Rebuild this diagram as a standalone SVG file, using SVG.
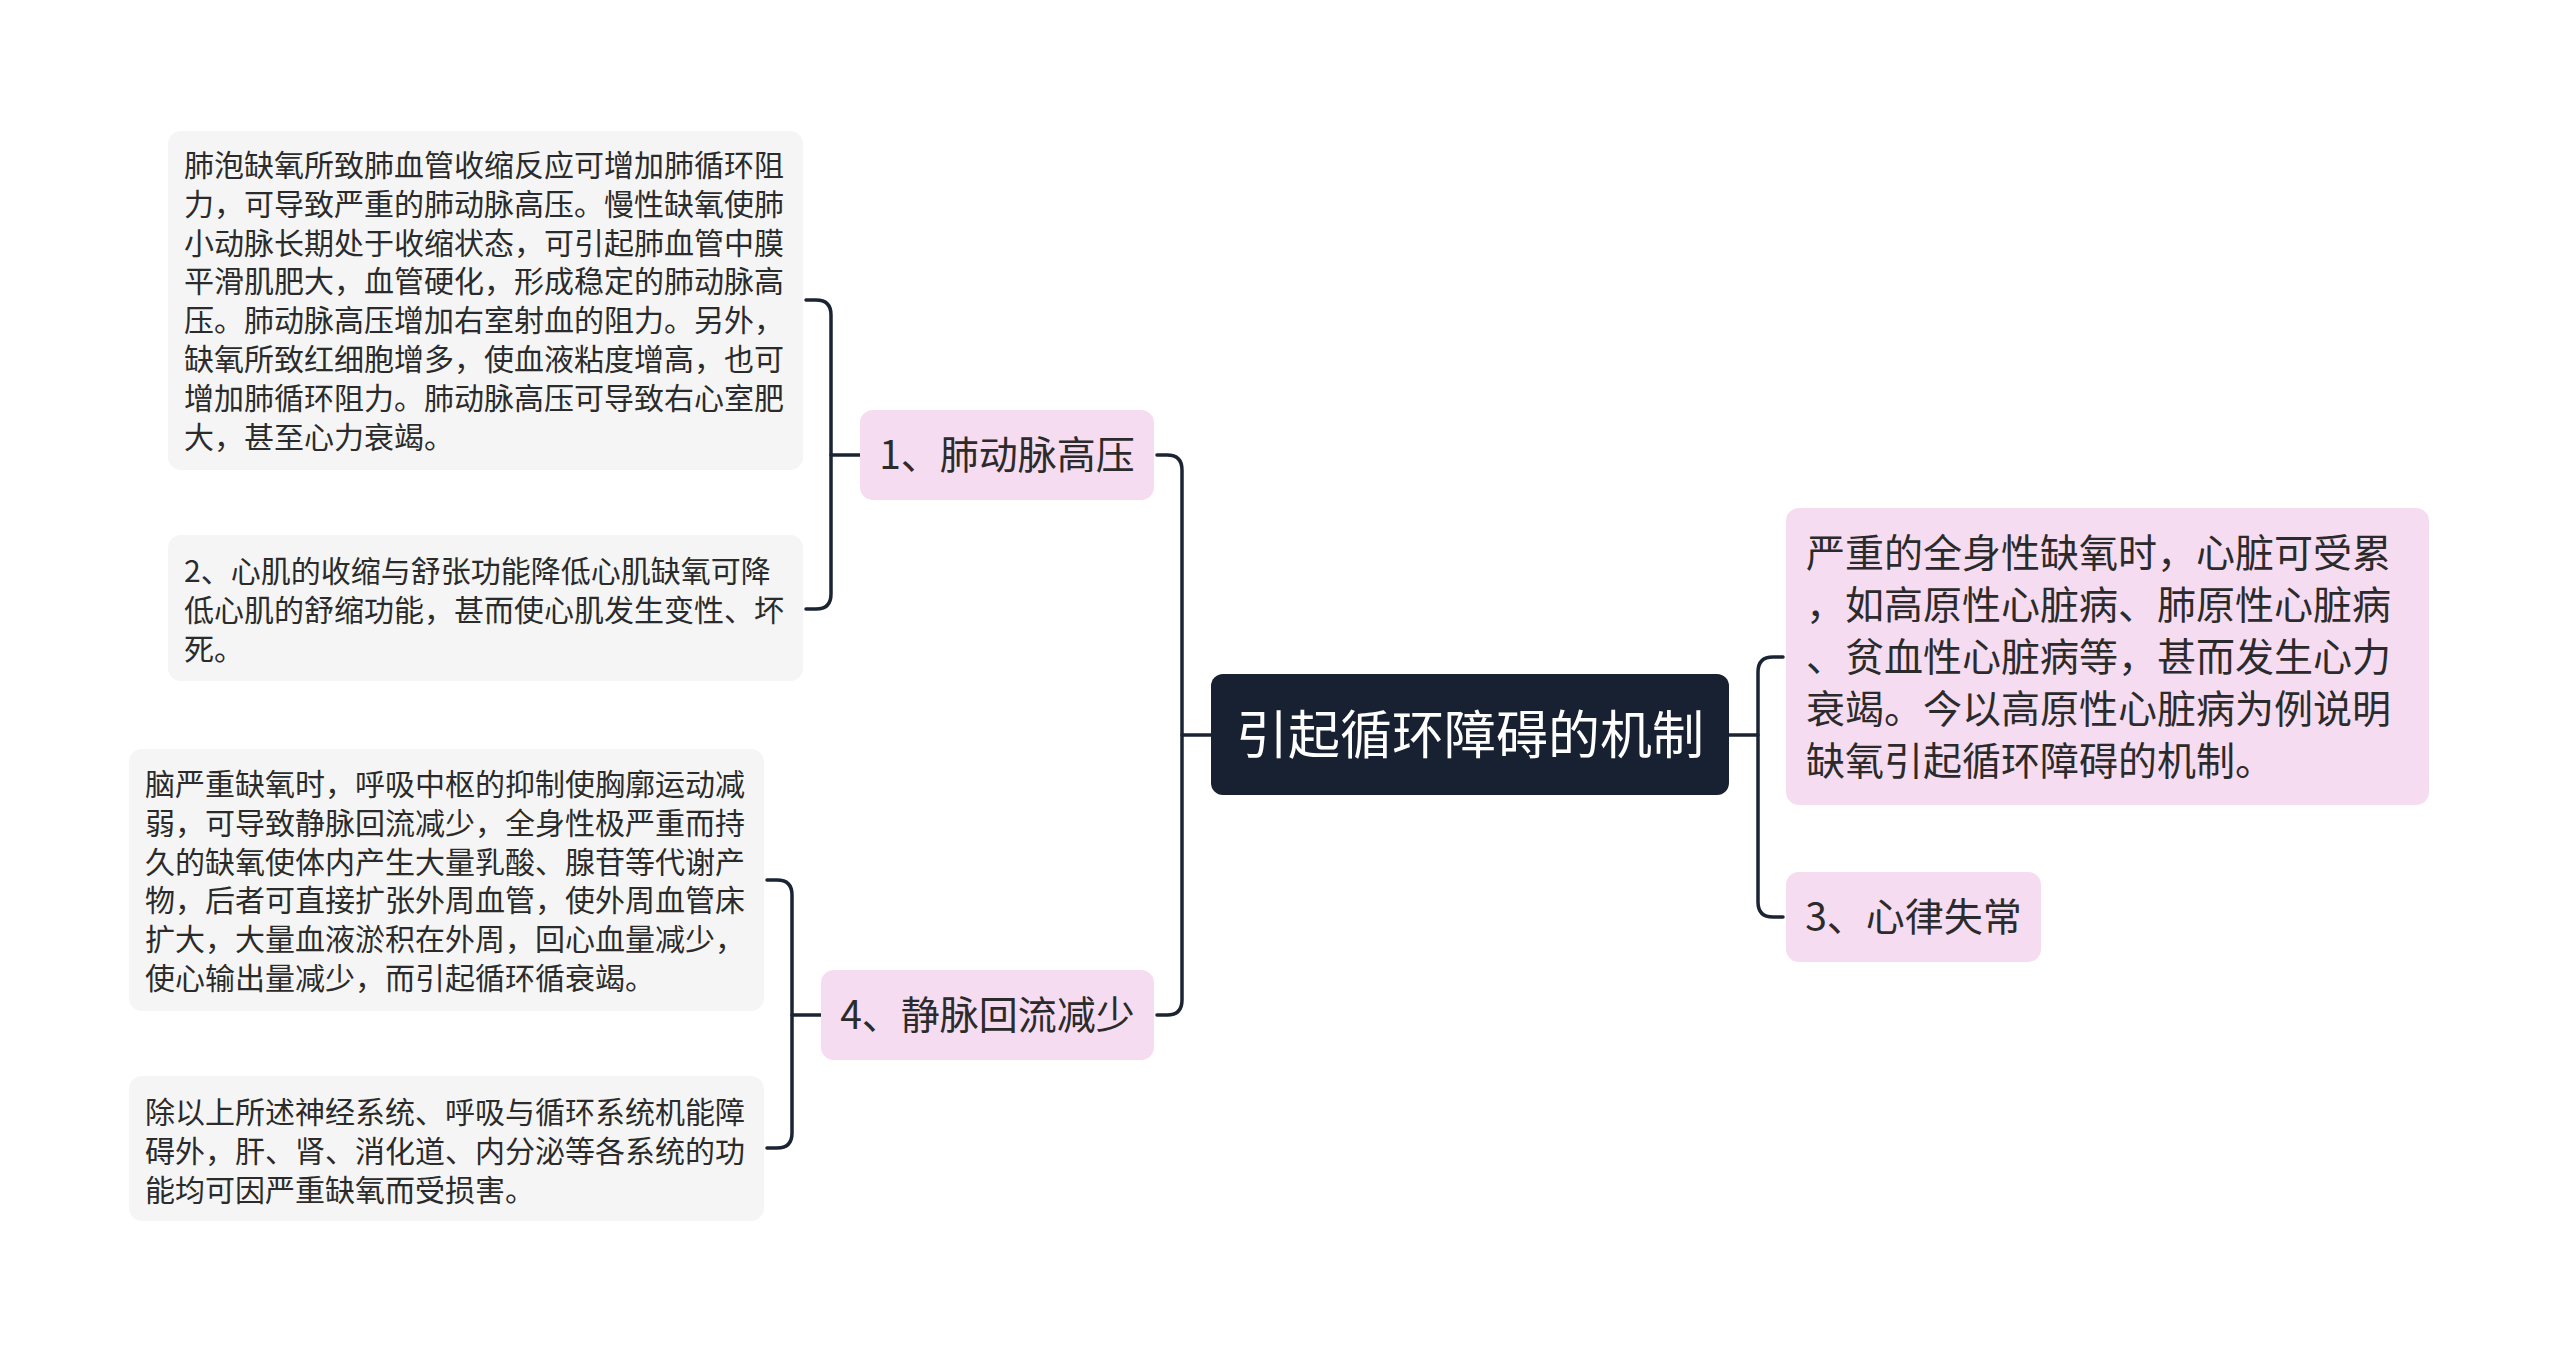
<svg xmlns="http://www.w3.org/2000/svg" width="2560" height="1353" viewBox="0 0 2560 1353">
<style>
text{font-family:"Noto Sans CJK SC","Noto Sans",sans-serif;}
.note{fill:#f5f5f5;}
.pink{fill:#f6dcf0;}
.nt{font-size:30px;fill:#2b2b2b;}
.lt{font-size:39px;fill:#2b2b2b;}
.ct{font-size:52px;fill:#ffffff;}
.conn{fill:none;stroke:#1b2433;stroke-width:3.5;stroke-linecap:round;}
</style>
<rect width="2560" height="1353" fill="#ffffff"/>
<g id="connectors">
<path class="conn" d="M1211,735 H1182"/>
<path class="conn" d="M1157,455 H1167 Q1182,455 1182,470 V1000 Q1182,1015 1167,1015 H1157"/>
<path class="conn" d="M860,455 H831"/>
<path class="conn" d="M806,300 H816 Q831,300 831,315 V594 Q831,609 816,609 H806"/>
<path class="conn" d="M821,1015 H792"/>
<path class="conn" d="M767,880 H777 Q792,880 792,895 V1133 Q792,1148 777,1148 H767"/>
<path class="conn" d="M1729,735 H1758"/>
<path class="conn" d="M1783,657 H1773 Q1758,657 1758,672 V902 Q1758,917 1773,917 H1783"/>
</g>
<g id="center">
<rect x="1211" y="674" width="518" height="121" rx="12" fill="#172131"/>
<text class="ct" x="1470" y="754" text-anchor="middle">引起循环障碍的机制</text>
</g>
<g id="n1">
<rect class="pink" x="860" y="410" width="294" height="90" rx="13"/>
<text class="lt" x="1007" y="469" text-anchor="middle">1、肺动脉高压</text>
</g>
<g id="n4">
<rect class="pink" x="821" y="970" width="333" height="90" rx="13"/>
<text class="lt" x="987.5" y="1029" text-anchor="middle">4、静脉回流减少</text>
</g>
<g id="n3">
<rect class="pink" x="1786" y="872" width="255" height="90" rx="13"/>
<text class="lt" x="1913.5" y="931" text-anchor="middle">3、心律失常</text>
</g>
<g id="nr">
<rect class="pink" x="1786" y="508" width="643" height="297" rx="13"/>
<text class="lt" x="1806" y="567">
<tspan x="1806">严重的全身性缺氧时，心脏可受累</tspan>
<tspan x="1806" dy="52">，如高原性心脏病、肺原性心脏病</tspan>
<tspan x="1806" dy="52">、贫血性心脏病等，甚而发生心力</tspan>
<tspan x="1806" dy="52">衰竭。今以高原性心脏病为例说明</tspan>
<tspan x="1806" dy="52">缺氧引起循环障碍的机制。</tspan>
</text>
</g>
<g id="nA">
<rect class="note" x="168" y="131" width="635" height="339" rx="13"/>
<text class="nt" x="184" y="176">
<tspan x="184">肺泡缺氧所致肺血管收缩反应可增加肺循环阻</tspan>
<tspan x="184" dy="38.8">力，可导致严重的肺动脉高压。慢性缺氧使肺</tspan>
<tspan x="184" dy="38.8">小动脉长期处于收缩状态，可引起肺血管中膜</tspan>
<tspan x="184" dy="38.8">平滑肌肥大，血管硬化，形成稳定的肺动脉高</tspan>
<tspan x="184" dy="38.8">压。肺动脉高压增加右室射血的阻力。另外，</tspan>
<tspan x="184" dy="38.8">缺氧所致红细胞增多，使血液粘度增高，也可</tspan>
<tspan x="184" dy="38.8">增加肺循环阻力。肺动脉高压可导致右心室肥</tspan>
<tspan x="184" dy="38.8">大，甚至心力衰竭。</tspan>
</text>
</g>
<g id="nB">
<rect class="note" x="168" y="535" width="635" height="146" rx="13"/>
<text class="nt" x="184" y="582">
<tspan x="184">2、心肌的收缩与舒张功能降低心肌缺氧可降</tspan>
<tspan x="184" dy="38.8">低心肌的舒缩功能，甚而使心肌发生变性、坏</tspan>
<tspan x="184" dy="38.8">死。</tspan>
</text>
</g>
<g id="nC">
<rect class="note" x="129" y="749" width="635" height="262" rx="13"/>
<text class="nt" x="145" y="795">
<tspan x="145">脑严重缺氧时，呼吸中枢的抑制使胸廓运动减</tspan>
<tspan x="145" dy="38.8">弱，可导致静脉回流减少，全身性极严重而持</tspan>
<tspan x="145" dy="38.8">久的缺氧使体内产生大量乳酸、腺苷等代谢产</tspan>
<tspan x="145" dy="38.8">物，后者可直接扩张外周血管，使外周血管床</tspan>
<tspan x="145" dy="38.8">扩大，大量血液淤积在外周，回心血量减少，</tspan>
<tspan x="145" dy="38.8">使心输出量减少，而引起循环循衰竭。</tspan>
</text>
</g>
<g id="nD">
<rect class="note" x="129" y="1076" width="635" height="145" rx="13"/>
<text class="nt" x="145" y="1123">
<tspan x="145">除以上所述神经系统、呼吸与循环系统机能障</tspan>
<tspan x="145" dy="38.8">碍外，肝、肾、消化道、内分泌等各系统的功</tspan>
<tspan x="145" dy="38.8">能均可因严重缺氧而受损害。</tspan>
</text>
</g>
</svg>
